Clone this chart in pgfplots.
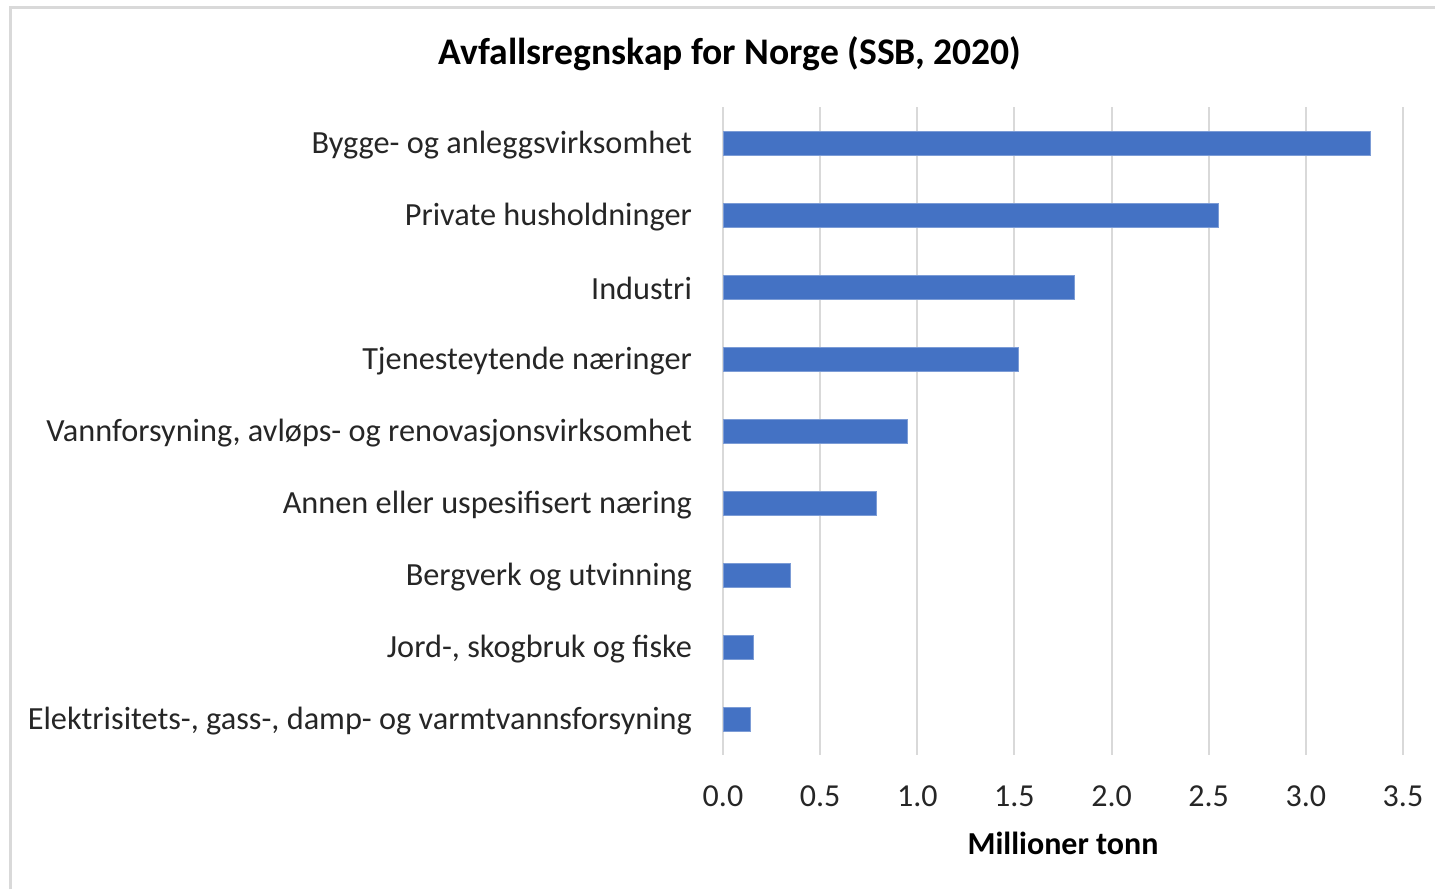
\documentclass[border=0pt]{standalone}
\usepackage{pgfplots}
\pgfplotsset{compat=1.18}
\usepackage{fontspec}
\setmainfont{Carlito}
\definecolor{barblue}{HTML}{4472C4}
\definecolor{gridgray}{HTML}{D9D9D9}
\definecolor{framegray}{HTML}{D9D9D9}
\begin{document}
\begin{tikzpicture}
\useasboundingbox (0pt,0pt) rectangle (717.5pt,-444.5pt);
\draw[framegray, line width=1.5pt] (5pt,-444.5pt) -- (5pt,-3.5pt) -- (717.5pt,-3.5pt);
\begin{axis}[
  at={(361.5pt,-377.5pt)}, anchor=south west,
  scale only axis, width=340pt, height=324pt,
  xbar, bar width=12pt,
  xmin=0, xmax=3.5,
  ymin=-0.5, ymax=8.5, y dir=reverse,
  xtick={0,0.5,...,3.5},
  ytick={0,...,8},
  yticklabels={Bygge- og anleggsvirksomhet, Private husholdninger, Industri, Tjenesteytende næringer, {Vannforsyning, avløps- og renovasjonsvirksomhet}, Annen eller uspesifisert næring, Bergverk og utvinning, {Jord-, skogbruk og fiske}, {Elektrisitets-, gass-, damp- og varmtvannsforsyning}},
  /pgf/number format/assume math mode=true,
  xticklabel={\pgfmathprintnumber[fixed,fixed zerofill,precision=1]{\tick}},
  tick label style={text=black!85},
  xticklabel style={font=\fontsize{16}{19}\selectfont, yshift=-12pt},
  yticklabel style={font=\fontsize{16.15}{19}\selectfont, xshift=-12pt, yshift=-0.8pt},
  major tick length=0pt,
  axis line style={draw=none},
  xmajorgrids, grid style={gridgray, line width=1pt},
  xlabel={\textbf{Millioner tonn}},
  xlabel style={font=\fontsize{16}{19}\selectfont, yshift=-5.5pt},
  clip=false,
]
\addplot[fill=barblue, draw=barblue!70!white, line width=0.4pt] coordinates {
(3.33,0) (2.55,1) (1.81,2) (1.52,3) (0.947,4) (0.787,5) (0.345,6) (0.154,7) (0.139,8)
};
\end{axis}
\node[font=\fontsize{18.8}{22}\selectfont\bfseries] at (365pt,-27pt) {Avfallsregnskap for Norge (SSB, 2020)};
\end{tikzpicture}
\end{document}
